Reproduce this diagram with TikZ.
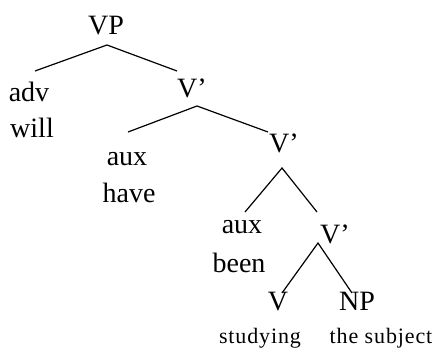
\documentclass[tikz,border=0pt]{standalone}
\usepackage{fontspec}
\setmainfont{Liberation Serif}
\begin{document}
\begin{tikzpicture}[x=1pt,y=-1pt,
  lbl/.style={inner sep=0pt,anchor=base,font=\fontsize{28}{32}\selectfont},
  word/.style={inner sep=0pt,anchor=base,font=\fontsize{22}{26}\selectfont\addfontfeature{LetterSpace=4}},
  branch/.style={line width=1.2pt,black}]
\useasboundingbox (0,0) rectangle (435,355);
% category labels and words
\node[lbl] (vp)   at (106,35)  {VP};
\node[lbl] (adv)  at (29,102)  {adv};
\node[lbl] (will) at (32,138)  {will};
\node[lbl] (vb1)  at (192,98)  {V’};
\node[lbl] (aux1) at (127,165) {aux};
\node[lbl] (have) at (129,202) {have};
\node[lbl] (vb2)  at (284,153) {V’};
\node[lbl] (aux2) at (242,233) {aux};
\node[lbl] (been) at (239,272) {been};
\node[lbl] (vb3)  at (335,243) {V’};
\node[lbl] (v)    at (278,310) {V};
\node[lbl] (np)   at (357,310) {NP};
\node[word] (stud) at (260,343) {studying};
\node[word] (subj) at (381,343) {the subject};
% branch points and branch ends
\coordinate (vp-a)  at (107,45);
\coordinate (adv-t) at (35,71);
\coordinate (vb1-t) at (177,71);
\coordinate (vb1-a) at (197,106);
\coordinate (aux1-t) at (128,132);
\coordinate (vb2-t) at (268,132);
\coordinate (vb2-a) at (282,168);
\coordinate (aux2-t) at (245,212);
\coordinate (vb3-t) at (317,212);
\coordinate (vb3-a) at (318,243);
\coordinate (v-t)  at (282,293);
\coordinate (np-t) at (352,293);
% branches
\draw[branch] (adv-t) -- (vp-a) -- (vb1-t);
\draw[branch] (aux1-t) -- (vb1-a) -- (vb2-t);
\draw[branch] (aux2-t) -- (vb2-a) -- (vb3-t);
\draw[branch] (v-t) -- (vb3-a) -- (np-t);
\end{tikzpicture}
\end{document}
